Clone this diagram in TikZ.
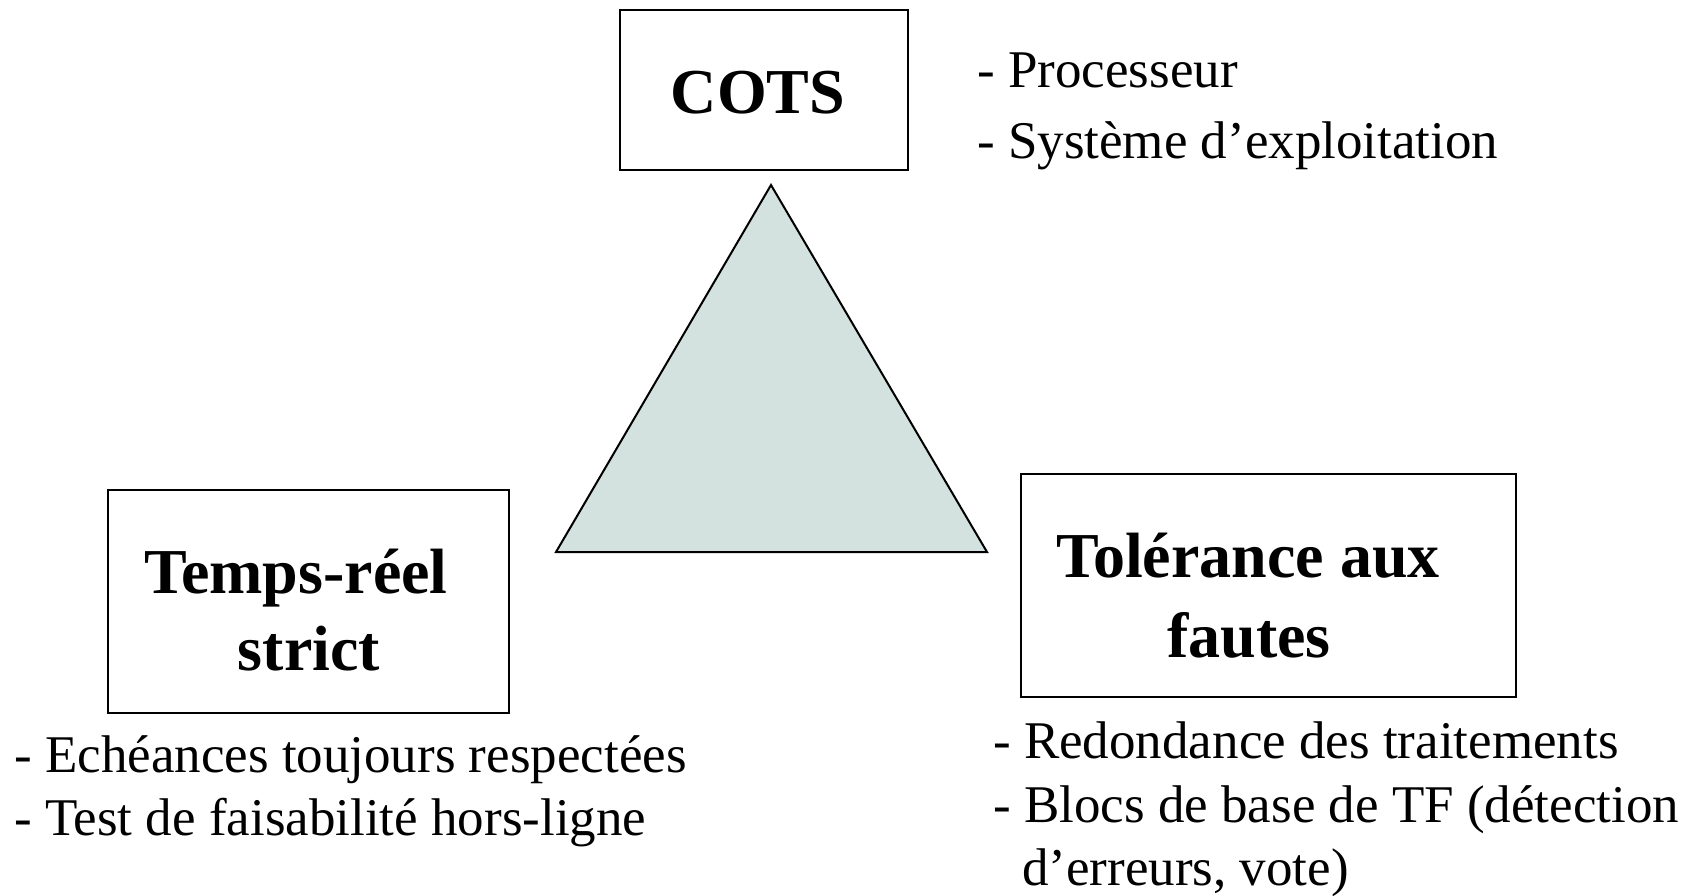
\documentclass[tikz,border=0pt]{standalone}
\usepackage{fontspec}
\setmainfont{Liberation Serif}
\definecolor{trifill}{RGB}{211,226,222}
\begin{document}
\begin{tikzpicture}[x=1pt,y=-1pt,
  frame/.style={draw=black, line width=2pt, inner sep=0pt, anchor=north west},
  head/.style={font=\fontsize{64}{76}\selectfont\bfseries, inner sep=0pt, anchor=base},
  item/.style={font=\fontsize{53}{64}\selectfont, inner sep=0pt, anchor=base west}]
\useasboundingbox (0,0) rectangle (1697,895);
\fill[white] (0,0) rectangle (1697,895);

% the three corner boxes
\node[frame, minimum width=288pt, minimum height=160pt] (cotsbox) at (619,9) {};
\node[frame, minimum width=401pt, minimum height=223pt] (trbox) at (107,489) {};
\node[frame, minimum width=495pt, minimum height=223pt] (tfbox) at (1020,473) {};

% central triangle
\coordinate (apex) at (771,185);
\coordinate (right) at (987,552);
\coordinate (left) at (556,552);
\draw[line width=2pt, fill=trifill] (apex) -- (right) -- (left) -- cycle;

% box titles
\node[head] (cots) at (758,113) {COTS};
\node[head] (tr1) at (296,593) {Temps-réel};
\node[head] (tr2) at (309,670) {strict};
\node[head] (tf1) at (1248,577) {Tolérance aux};
\node[head] (tf2) at (1249,657) {fautes};

% lists
\node[item] (p1) at (977,87) {- Processeur};
\node[item] (p2) at (977,158) {- Système d’exploitation};
\node[item] (e1) at (14,772) {- Echéances toujours respectées};
\node[item] (e2) at (14,835) {- Test de faisabilité hors-ligne};
\node[item] (r1) at (993,758) {- Redondance des traitements};
\node[item] (r2) at (993,822) {- Blocs de base de TF (détection};
\node[item] (r3) at (1022,885) {d’erreurs, vote)};
\end{tikzpicture}
\end{document}
